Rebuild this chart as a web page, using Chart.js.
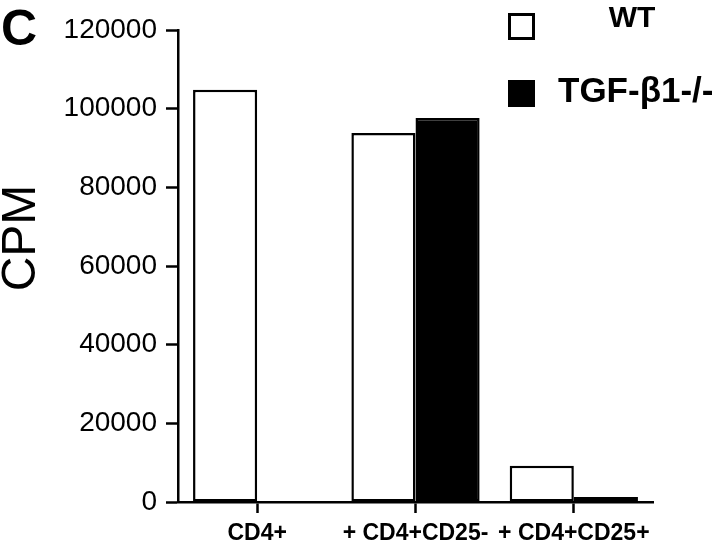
<!DOCTYPE html>
<html>
<head>
<meta charset="utf-8">
<script src="https://cdn.jsdelivr.net/npm/chart.js@4/dist/chart.umd.min.js"></script>
<style>
  body { margin: 0; background: #fff; }
  #wrap { width: 720px; height: 548px; }
</style>
</head>
<body>
<div id="wrap"><canvas id="cpmChart" width="720" height="548"></canvas></div>
<script>
// data
const categories = ['CD4+', '+ CD4+CD25-', '+ CD4+CD25+'];
const seriesNames = ['WT', 'TGF-\u03B21-/-'];
const wtValues = [104800, 93800, 9200];
const tgfValues = [null, 97600, 1300];
const yTicks = [0, 20000, 40000, 60000, 80000, 100000, 120000];
const yTitle = 'CPM';
const panelLetter = 'C';

const FONT = '"Liberation Sans", Arial, Helvetica, sans-serif';

// letter, axis title and the two-row legend are drawn by hand
const figureText = {
    id: 'figureText',
    afterDraw(chart) {
        const ctx = chart.ctx;
        ctx.save();
        ctx.fillStyle = '#000';
        ctx.strokeStyle = '#000';

        // panel letter
        ctx.font = 'bold 50px ' + FONT;
        ctx.textAlign = 'left';
        ctx.textBaseline = 'alphabetic';
        ctx.fillText(panelLetter, 1, 45);

        // y title
        ctx.save();
        ctx.translate(22, 238);
        ctx.rotate(-Math.PI / 2);
        ctx.font = '48px ' + FONT;
        ctx.textAlign = 'center';
        ctx.textBaseline = 'middle';
        ctx.fillText(yTitle, 0, 0);
        ctx.restore();

        // legend
        const rows = [
            { boxY: 13, textX: 632, textY: 27, align: 'center', size: 30 },
            { boxY: 80, textX: 558, textY: 102, align: 'left', size: 35 }
        ];
        chart.data.datasets.forEach((ds, i) => {
            const r = rows[i];
            if (ds.backgroundColor === '#000') {
                ctx.fillRect(508, r.boxY, 27, 27);
            } else {
                ctx.lineWidth = 3;
                ctx.strokeRect(509.5, r.boxY + 1.5, 24, 24);
            }
            ctx.font = 'bold ' + r.size + 'px ' + FONT;
            ctx.textAlign = r.align;
            ctx.fillText(ds.label, r.textX, r.textY);
        });
        ctx.restore();
    }
};

new Chart(document.getElementById('cpmChart'), {
    type: 'bar',
    data: {
        labels: categories,
        datasets: [{
            label: seriesNames[0],
            data: wtValues,
            backgroundColor: '#fff',
            borderColor: '#000',
            borderWidth: 2.5,
            borderSkipped: false
        }, {
            label: seriesNames[1],
            data: tgfValues,
            backgroundColor: '#000',
            borderColor: '#000',
            borderWidth: 2.5,
            borderSkipped: false
        }]
    },
    options: {
        responsive: false,
        animation: false,
        devicePixelRatio: 1,
        categoryPercentage: 0.81,
        barPercentage: 1.0,
        layout: { padding: { top: 30, right: 67, bottom: 0, left: 0 } },
        plugins: {
            legend: { display: false },
            tooltip: { enabled: false }
        },
        scales: {
            x: {
                offset: true,
                afterFit(scale) { scale.height = 46; },
                grid: {
                    offset: false,
                    drawOnChartArea: false,
                    tickLength: 11,
                    tickWidth: 2.5,
                    tickColor: '#000'
                },
                border: { display: true, color: '#000', width: 2.5 },
                ticks: {
                    color: '#000',
                    font: { family: FONT, size: 23, weight: 'bold' },
                    padding: 7,
                    maxRotation: 0,
                    autoSkip: false
                }
            },
            y: {
                min: 0,
                max: 120000,
                afterFit(scale) { scale.width = 178; },
                afterBuildTicks(scale) { scale.ticks = yTicks.map(v => ({ value: v })); },
                grid: {
                    drawOnChartArea: false,
                    tickLength: 12,
                    tickWidth: 2.5,
                    tickColor: '#000'
                },
                border: { display: true, color: '#000', width: 2.5 },
                ticks: {
                    color: '#000',
                    font: { family: FONT, size: 28 },
                    padding: 9,
                    callback: v => String(v)
                }
            }
        }
    },
    plugins: [figureText]
});
</script>
</body>
</html>
